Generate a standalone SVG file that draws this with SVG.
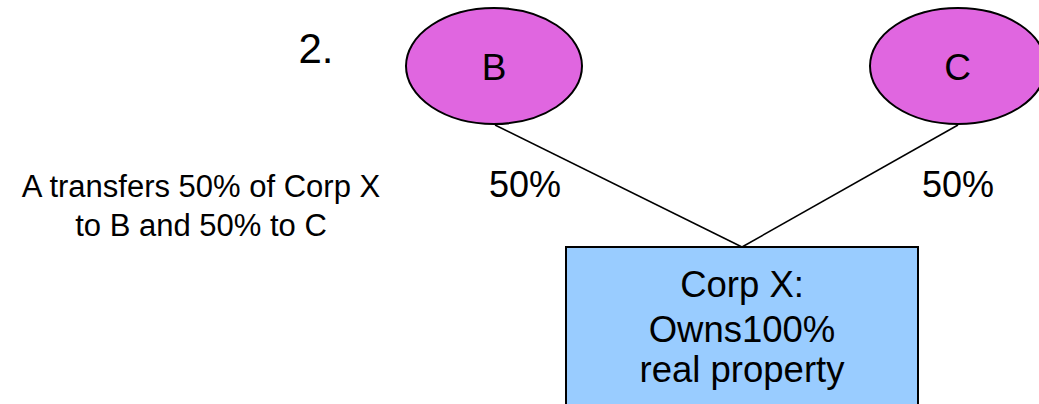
<svg xmlns="http://www.w3.org/2000/svg" width="1039" height="404" viewBox="0 0 1039 404">
<style>
text{font-family:"Liberation Sans",Arial,sans-serif;fill:#000;text-anchor:middle}
.ell{fill:#E066E0;stroke:#000;stroke-width:2}
.box{fill:#99CCFF;stroke:#000;stroke-width:2}
.conn line{stroke:#000;stroke-width:1.5}
</style>
<rect width="1039" height="404" fill="#fff"/>
<text x="316" y="63" font-size="42">2.</text>
<text x="201" y="197" font-size="31">A transfers 50% of Corp X</text>
<text x="201" y="236" font-size="31">to B and 50% to C</text>
<g class="conn" id="connectors">
<line x1="495" y1="125" x2="742" y2="247"/>
<line x1="958" y1="125" x2="742" y2="247"/>
</g>
<text x="525" y="197" font-size="36">50%</text>
<text x="958" y="197" font-size="36">50%</text>
<g id="nodeB">
<ellipse class="ell" cx="494" cy="66" rx="88" ry="58"/>
<text x="494" y="80" font-size="37">B</text>
</g>
<g id="nodeC">
<ellipse class="ell" cx="958" cy="66" rx="88" ry="58"/>
<text x="957.5" y="80" font-size="37">C</text>
</g>
<g id="corpX">
<rect class="box" x="566" y="247" width="352" height="170"/>
<text x="742" y="297" font-size="36.5">Corp X:</text>
<text x="742" y="342" font-size="36.5">Owns100%</text>
<text x="742" y="382" font-size="36.5">real property</text>
</g>
</svg>
